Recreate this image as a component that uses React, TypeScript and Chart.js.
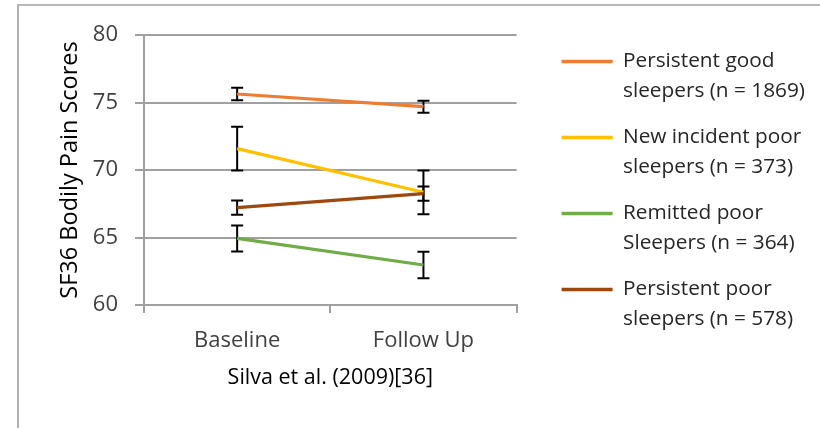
import React, { useEffect, useRef } from "react";
import { Chart, registerables } from "chart.js";

Chart.register(...registerables);

// ---- data ----
const categories = ["Baseline", "Follow Up"];
const persistentGood = [75.63, 74.69];
const newIncidentPoor = [71.58, 68.35];
const remittedPoor = [64.93, 62.96];
const persistentPoor = [67.22, 68.25];

const persistentGoodErr = [0.46, 0.44];
const newIncidentPoorErr = [1.62, 1.62];
const remittedPoorErr = [0.96, 0.98];
const persistentPoorErr = [0.53, 0.52];

const labelPersistentGood = ["Persistent good", "sleepers (n = 1869)"];
const labelNewIncidentPoor = ["New incident poor", "sleepers (n = 373)"];
const labelRemittedPoor = ["Remitted poor", "Sleepers (n = 364)"];
const labelPersistentPoor = ["Persistent poor", "sleepers (n = 578)"];

const yMin = 60;
const yMax = 80;
const yStep = 5;

const yTitle = "SF36 Bodily Pain Scores";
const xTitle = "Silva et al. (2009)[36]";

// ---- styles ----
const colors = ["#ED7D31", "#FFC000", "#70AD47", "#9E480E"];
const FONT = "'Open Sans', 'Noto Sans', sans-serif";
const GRID = "#a0a0a0";

const errors = [persistentGoodErr, newIncidentPoorErr, remittedPoorErr, persistentPoorErr];

const errorBarPlugin = {
  id: "errorBars",
  beforeDatasetsDraw(chart: any) {
    const ctx = chart.ctx;
    const y = chart.scales.y;
    chart.data.datasets.forEach((ds: any, i: number) => {
      const meta = chart.getDatasetMeta(i);
      meta.data.forEach((pt: any, j: number) => {
        const v = ds.data[j];
        const e = errors[i][j];
        const top = y.getPixelForValue(v + e);
        const bot = y.getPixelForValue(v - e);
        ctx.save();
        ctx.strokeStyle = "#000";
        ctx.lineWidth = 2;
        ctx.beginPath();
        ctx.moveTo(pt.x, top);
        ctx.lineTo(pt.x, bot);
        ctx.moveTo(pt.x - 6, top);
        ctx.lineTo(pt.x + 6, top);
        ctx.moveTo(pt.x - 6, bot);
        ctx.lineTo(pt.x + 6, bot);
        ctx.stroke();
        ctx.restore();
      });
    });
  },
};

export default function App() {
  const ref = useRef<HTMLCanvasElement | null>(null);

  useEffect(() => {
    document.body.style.margin = "0";
    const canvas = ref.current!;
    const legendFontSize = 20.8;
    const m = document.createElement("canvas").getContext("2d")!;
    m.font = legendFontSize + "px " + FONT;
    const tw = m.measureText("sleepers (n = 1869)").width;
    const legendPad = 16;
    const boxW = 51;
    const legendW = Math.ceil(legendPad + boxW + legendFontSize / 2 + tw + 10);
    const padLeft = 53;
    const yAxisW = 91;
    const plotW = 372;
    const gapW = 29;
    const padRight = Math.max(0, 820 - padLeft - yAxisW - plotW - gapW - legendW);

    const mk = (label: string[], data: number[], i: number, order: number) => ({
      label: label as any,
      data,
      borderColor: colors[i],
      backgroundColor: colors[i],
      borderWidth: 3.2,
      pointRadius: 0,
      pointHoverRadius: 0,
      tension: 0,
      order,
    });

    const chart = new Chart(canvas, {
      type: "line",
      data: {
        labels: categories,
        datasets: [
          mk(labelPersistentGood, persistentGood, 0, 4),
          mk(labelNewIncidentPoor, newIncidentPoor, 1, 3),
          mk(labelRemittedPoor, remittedPoor, 2, 2),
          mk(labelPersistentPoor, persistentPoor, 3, 1),
        ],
      },
      options: {
        animation: false,
        responsive: false,
        events: [],
        layout: { padding: { left: padLeft, top: 35, right: padRight, bottom: 0 } },
        scales: {
          x: {
            type: "category",
            offset: true,
            grid: {
              offset: true,
              drawOnChartArea: false,
              drawTicks: true,
              tickLength: 8,
              color: GRID,
              lineWidth: 2,
            },
            border: { color: GRID, width: 2 },
            ticks: {
              color: "#404040",
              font: { family: FONT, size: 22 },
              padding: 15,
              maxRotation: 0,
            },
            title: {
              display: true,
              text: xTitle,
              color: "#000",
              font: { family: FONT, size: 21.5 },
              padding: { top: 4, bottom: 37 },
            },
            afterFit(scale: any) {
              scale.height = 123;
            },
          },
          y: {
            type: "linear",
            min: yMin,
            max: yMax,
            grid: {
              color: GRID,
              lineWidth: 2,
              tickLength: 9,
              drawTicks: true,
            },
            border: { color: GRID, width: 2 },
            ticks: {
              stepSize: yStep,
              color: "#404040",
              font: { family: FONT, size: 22 },
              padding: 17,
            },
            title: {
              display: true,
              text: yTitle,
              color: "#000",
              font: { family: FONT, size: 23.5 },
              padding: { top: 3, bottom: 4 },
            },
            afterFit(scale: any) {
              scale.width = yAxisW;
            },
          },
          gap: {
            type: "linear",
            position: "right",
            display: true,
            grid: { display: false, drawTicks: false },
            border: { display: false },
            ticks: { display: false },
            afterFit(scale: any) {
              scale.width = gapW;
            },
          },
        } as any,
        plugins: {
          tooltip: { enabled: false },
          legend: {
            display: true,
            position: "right",
            align: "start",
            maxWidth: legendW,
            labels: {
              usePointStyle: true,
              pointStyle: "line",
              pointStyleWidth: boxW,
              padding: legendPad,
              color: "#262626",
              font: { family: FONT, size: legendFontSize, lineHeight: "30px" } as any,
              generateLabels(ch: any) {
                return ch.data.datasets.map((ds: any, i: number) => ({
                  text: ds.label,
                  fillStyle: ds.borderColor,
                  strokeStyle: ds.borderColor,
                  lineWidth: 3.5,
                  pointStyle: "line",
                  hidden: false,
                  fontColor: "#262626",
                  datasetIndex: i,
                }));
              },
            },
          } as any,
        },
      },
      plugins: [errorBarPlugin],
    });
    return () => chart.destroy();
  }, []);

  return (
    <div style={{ position: "relative", width: 820, height: 428, overflow: "hidden", background: "#fff" }}>
      <canvas ref={ref} width={820} height={428} style={{ position: "absolute", left: 0, top: 0 }} />
      <div
        style={{
          position: "absolute",
          left: 17,
          top: 4,
          width: 1000,
          height: 1000,
          borderTop: "2px solid #b8b8b8",
          borderLeft: "2px solid #b0b0b0",
          pointerEvents: "none",
        }}
      />
    </div>
  );
}
